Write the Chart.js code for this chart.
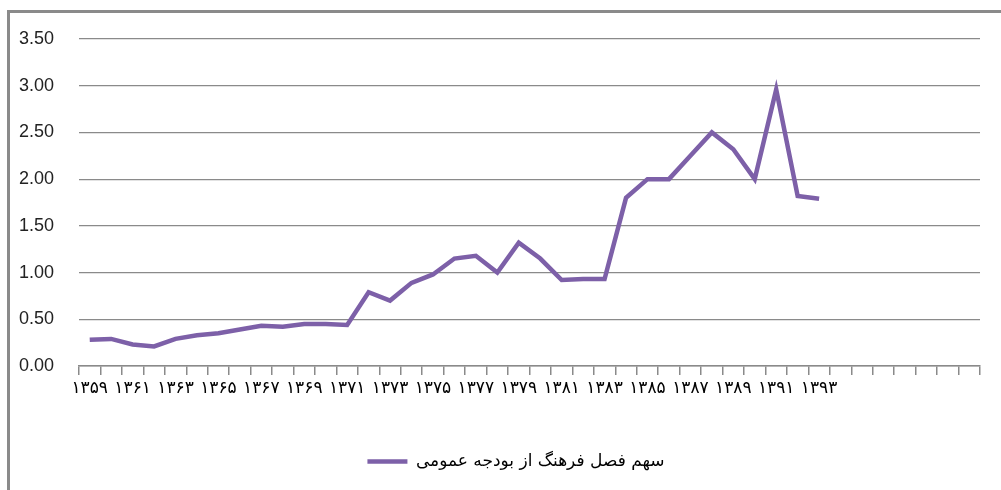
<!DOCTYPE html>
<html><head><meta charset="utf-8">
<script src="https://cdn.jsdelivr.net/npm/chart.js@4.4.1/dist/chart.umd.min.js"></script>
<style>
html,body{margin:0;padding:0;background:#fff;width:1001px;height:490px;overflow:hidden;}
#frame{position:absolute;left:7px;top:10px;width:1100px;height:600px;border:3px solid #8a8a8a;box-sizing:content-box;}
#wrap{position:absolute;left:0;top:0;width:1001px;height:490px;}
</style></head><body>
<div id="frame"></div>
<div id="wrap"><canvas id="c" width="1001" height="490"></canvas></div>
<script>
const categories = ['۱۳۵۹','۱۳۶۰','۱۳۶۱','۱۳۶۲','۱۳۶۳','۱۳۶۴','۱۳۶۵','۱۳۶۶','۱۳۶۷','۱۳۶۸',
  '۱۳۶۹','۱۳۷۰','۱۳۷۱','۱۳۷۲','۱۳۷۳','۱۳۷۴','۱۳۷۵','۱۳۷۶','۱۳۷۷','۱۳۷۸',
  '۱۳۷۹','۱۳۸۰','۱۳۸۱','۱۳۸۲','۱۳۸۳','۱۳۸۴','۱۳۸۵','۱۳۸۶','۱۳۸۷','۱۳۸۸',
  '۱۳۸۹','۱۳۹۰','۱۳۹۱','۱۳۹۲','۱۳۹۳','','','','','','',''];
const tickLabels = ['۱۳۵۹','','۱۳۶۱','','۱۳۶۳','','۱۳۶۵','','۱۳۶۷','',
  '۱۳۶۹','','۱۳۷۱','','۱۳۷۳','','۱۳۷۵','','۱۳۷۷','',
  '۱۳۷۹','','۱۳۸۱','','۱۳۸۳','','۱۳۸۵','','۱۳۸۷','',
  '۱۳۸۹','','۱۳۹۱','','۱۳۹۳','','','','','','',''];
const seriesName = 'سهم فصل فرهنگ از بودجه عمومی';
const seriesValues = [0.28,0.29,0.23,0.21,0.29,0.33,0.35,0.39,0.43,0.42,
  0.45,0.45,0.44,0.79,0.70,0.89,0.98,1.15,1.18,1.00,
  1.32,1.15,0.92,0.93,0.93,1.80,2.00,2.00,2.25,2.50,
  2.32,2.00,2.96,1.82,1.79];
const yTicks = [0,0.5,1,1.5,2,2.5,3,3.5];

const gridColor = '#8a8a8a';
const legendShift = {
  id: 'legendShift',
  afterLayout(chart) {
    const l = chart.legend;
    if (l) { l.left += 26; l.right += 26; }
  }
};
new Chart(document.getElementById('c'), {
  type: 'line',
  data: {
    labels: categories,
    datasets: [{
      label: seriesName,
      data: seriesValues,
      borderColor: '#7d60a8',
      backgroundColor: '#7d60a8',
      borderWidth: 4.5,
      pointRadius: 0,
      tension: 0,
      fill: false
    }]
  },
  plugins: [legendShift],
  options: {
    responsive: false,
    animation: false,
    devicePixelRatio: 1,
    layout: { padding: { left: 0, right: 21, top: 39, bottom: 10 } },
    plugins: {
      tooltip: { enabled: false },
      legend: {
        position: 'bottom',
        labels: {
          usePointStyle: true,
          pointStyle: 'line',
          pointStyleWidth: 40,
          padding: 10,
          color: '#000',
          font: { family: 'DejaVu Sans', size: 17 }
        }
      }
    },
    scales: {
      x: {
        offset: true,
        grid: { offset: true, drawOnChartArea: false, drawTicks: true, tickLength: 9, color: gridColor, lineWidth: 1.5 },
        border: { color: gridColor, width: 1.5 },
        ticks: {
          autoSkip: false, maxRotation: 0, minRotation: 0, padding: 3,
          color: '#000',
          font: { family: 'DejaVu Sans', size: 17 },
          callback: (v, i) => tickLabels[i]
        },
        afterFit: s => { s.height = 77; }
      },
      y: {
        min: 0, max: 3.5,
        afterBuildTicks: s => { s.ticks = yTicks.map(v => ({ value: v })); },
        grid: { color: gridColor, lineWidth: 1.2, drawTicks: false },
        border: { display: false },
        ticks: {
          padding: 25,
          color: '#222',
          font: { family: 'Liberation Sans', size: 18 },
          callback: v => Number(v).toFixed(2)
        },
        afterFit: s => { s.width = 79; }
      }
    }
  }
});
</script>
</body></html>
